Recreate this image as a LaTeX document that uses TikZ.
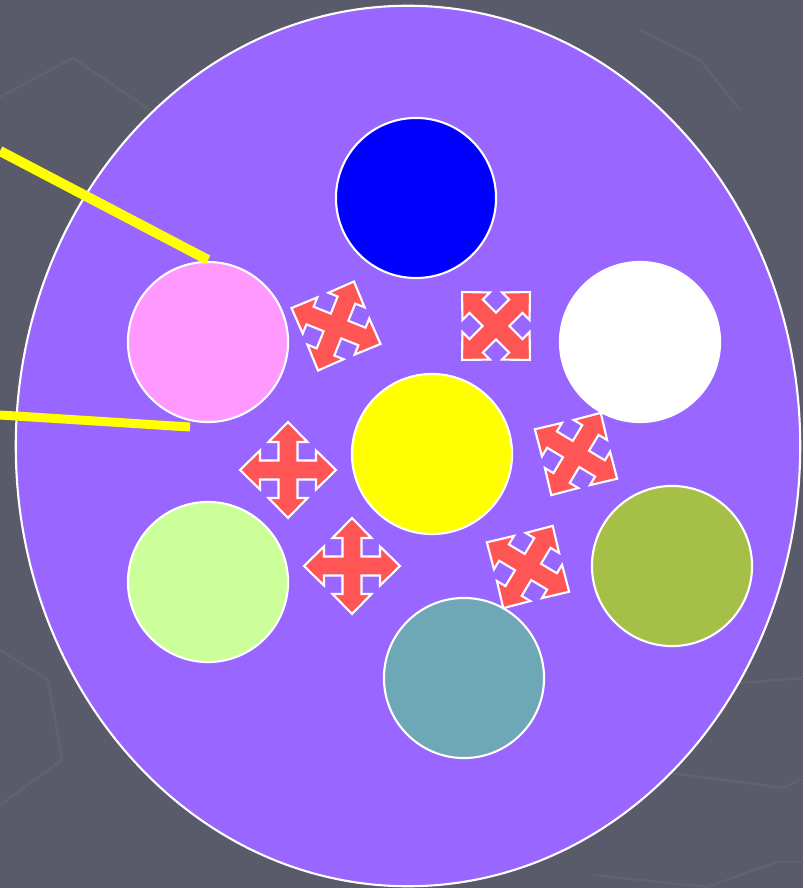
\documentclass[tikz,border=0pt]{standalone}
\usetikzlibrary{shapes.geometric}
\definecolor{slidegray}{RGB}{89, 91, 106}
\definecolor{slideline}{RGB}{96, 98, 112}
\definecolor{dishpurple}{RGB}{153, 102, 255}
\definecolor{movered}{RGB}{255, 85, 85}
\definecolor{dotblue}{RGB}{0, 0, 255}
\definecolor{dotyellow}{RGB}{255, 255, 0}
\definecolor{dotpink}{RGB}{255, 153, 255}
\definecolor{dotlime}{RGB}{204, 255, 153}
\definecolor{dotolive}{RGB}{165, 191, 71}
\definecolor{dotteal}{RGB}{110, 168, 182}

\begin{document}
\begin{tikzpicture}[
    x=0.01cm, y=-0.01cm,
    dish/.style={ellipse, draw=white, line width=0.6pt, fill=dishpurple,
                 minimum width=7.84cm, minimum height=8.8cm, inner sep=0pt},
    dot/.style={circle, draw=white, line width=0.6pt, minimum size=1.6cm, inner sep=0pt},
    pointer/.style={draw=dotyellow, line width=0.1cm},
    faint/.style={draw=slideline, line width=0.7pt},
    pics/spread/.style={code={
      \filldraw[fill=movered, draw=white, line width=0.6pt, line join=miter]
        (-9.5,-9.5) -- (-9.5,-28) -- (-19.5,-28) -- (0,-48) -- (19.5,-28) -- (9.5,-28)
        -- (9.5,-9.5) -- (28,-9.5) -- (28,-19.5) -- (48,0) -- (28,19.5) -- (28,9.5)
        -- (9.5,9.5) -- (9.5,28) -- (19.5,28) -- (0,48) -- (-19.5,28) -- (-9.5,28)
        -- (-9.5,9.5) -- (-28,9.5) -- (-28,19.5) -- (-48,0) -- (-28,-19.5) -- (-28,-9.5)
        -- cycle;}}
  ]
    % slide background
    \useasboundingbox (0,0) rectangle (803,888);
    \clip (0,0) rectangle (803,888);
    \fill[slidegray] (0,0) rectangle (803,888);
    \draw[faint] (0,97) -- (73,58) -- (150,110);
    \draw[faint] (640,30) -- (700,60) -- (740,110);
    \draw[faint] (0,650) -- (48,680) -- (62,760) -- (0,805);
    \draw[faint] (740,683) -- (803,678);
    \draw[faint] (673,773) -- (783,788) -- (803,778);
    \draw[faint] (593,875) -- (707,887) -- (777,862) -- (803,862);

    \node[dish] (dish) at (408,446) {};

    \node[dot, fill=dotblue]   (blue)  at (416,198) {};
    \node[dot, fill=dotpink]   (pink)  at (208,342) {};
    \node[dot, fill=white]     (white) at (640,342) {};
    \node[dot, fill=dotyellow] (yel)   at (432,454) {};
    \node[dot, fill=dotlime]   (lime)  at (208,582) {};
    \node[dot, fill=dotolive]  (olive) at (672,566) {};
    \node[dot, fill=dotteal]   (teal)  at (464,678) {};

    \pic[rotate=-22] at (336,326) {spread};
    \pic[rotate=45]  at (496,326) {spread};
    \pic             at (288,470) {spread};
    \pic             at (352,566) {spread};
    \pic[rotate=-31] at (576,454) {spread};
    \pic[rotate=-31] at (528,567) {spread};

    \coordinate (edgeA) at (0,151);
    \coordinate (tipA)  at (208,260);
    \coordinate (edgeB) at (0,415);
    \coordinate (tipB)  at (190,427);
    \draw[pointer] (edgeA) -- (tipA);
    \draw[pointer, line width=0.09cm] (edgeB) -- (tipB);
\end{tikzpicture}
\end{document}
